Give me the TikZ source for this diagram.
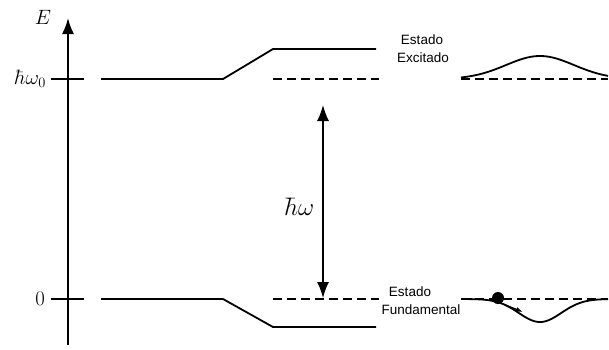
\documentclass[tikz,border=0pt]{standalone}
\usepackage{fontspec}
\setsansfont{Liberation Sans}
\usetikzlibrary{arrows.meta}
\begin{document}
\begin{tikzpicture}[x=1pt,y=-1pt,
  lvl/.style={line width=1.8pt},
  dashlvl/.style={line width=1.8pt, dash pattern=on 9pt off 5pt},
  lab/.style={font=\sffamily\fontsize{13.5}{15}\selectfont, inner sep=0pt},
  mathlab/.style={font=\fontsize{20}{22}\selectfont, inner sep=0pt},
  bigtip/.style={-{Latex[length=16pt,width=12pt]}}]
\useasboundingbox (0,0) rectangle (609,349);
% axis
\coordinate (ax0) at (68,345);
\coordinate (ax1) at (68,18);
\draw[lvl, bigtip] (ax0) -- (ax1);
\node[mathlab] (E) at (43,17) {$E$};
\node[mathlab, anchor=east] (hw0) at (46,79) {$\hbar\omega_0$};
\node[mathlab, anchor=east] (zero) at (45,299) {$0$};
\coordinate (t1a) at (51,79); \coordinate (t1b) at (84,79);
\coordinate (t0a) at (51,299); \coordinate (t0b) at (84,299);
\draw[lvl] (t1a) -- (t1b);
\draw[lvl] (t0a) -- (t0b);
% upper level
\coordinate (u1) at (101,79); \coordinate (u2) at (223,79);
\coordinate (u3) at (273,49); \coordinate (u4) at (376,49);
\draw[lvl] (u1) -- (u2) -- (u3) -- (u4);
\coordinate (ud1) at (273,79); \coordinate (ud2) at (379,79);
\draw[dashlvl] (ud1) -- (ud2);
% lower level
\coordinate (l1) at (101,299); \coordinate (l2) at (223,299);
\coordinate (l3) at (273,327); \coordinate (l4) at (376,327);
\draw[lvl] (l1) -- (l2) -- (l3) -- (l4);
\coordinate (ld1) at (273,299); \coordinate (ld2) at (379,299);
\draw[dashlvl] (ld1) -- (ld2);
% transition arrow
\coordinate (ta) at (323,105); \coordinate (tb) at (323,298);
\draw[line width=1.5pt, {Latex[length=16pt,width=12pt]}-{Latex[length=16pt,width=12pt]}] (tb) -- (ta);
\node[font=\fontsize{28}{30}\selectfont, inner sep=0pt] (hw) at (299,207) {$\hbar\omega$};
% labels
\node[lab] (es1) at (422,40) {Estado};
\node[lab] (ex) at (423,58) {Excitado};
\node[lab] (es0) at (410,292) {Estado};
\node[lab] (fu) at (421,310) {Fundamental};
% right side wavefunctions
\coordinate (rd1) at (461,79); \coordinate (rd2) at (608,79);
\draw[dashlvl] (rd1) -- (rd2);
\draw[lvl] plot[domain=461:608, samples=90, smooth] (\x, {79-23*exp(-(\x-540)*(\x-540)/2312)});
\coordinate (rl1) at (461,299); \coordinate (rl2) at (608,299);
\draw[dashlvl] (rl1) -- (rl2);
\draw[lvl] plot[domain=461:608, samples=90, smooth] (\x, {299+23*exp(-(\x-540)*(\x-540)/900)});
\node[circle, fill=black, minimum size=12pt, inner sep=0pt] (ball) at (498,298) {};
\coordinate (ma) at (503,304); \coordinate (mb) at (523,312);
\draw[line width=1.3pt, -{Latex[length=7pt,width=5pt]}] (ma) -- (mb);
\end{tikzpicture}
\end{document}
